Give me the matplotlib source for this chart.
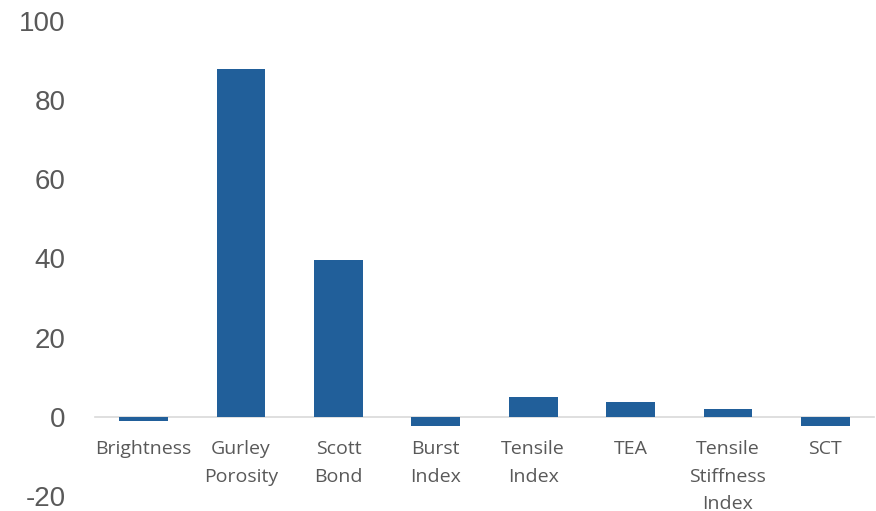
import matplotlib.pyplot as plt
import numpy as np

# categories and values
categories = ["Brightness", "Gurley\nPorosity", "Scott\nBond", "Burst\nIndex",
              "Tensile\nIndex", "TEA", "Tensile\nStiffness\nIndex", "SCT"]
values = [-1.1, 87.8, 39.7, -2.3, 5.0, 3.7, 1.9, -2.3]
y_ticks = [-20, 0, 20, 40, 60, 80, 100]

bar_color = "#215f9a"
text_color = "#595959"

fig = plt.figure(figsize=(8.76, 5.11), dpi=100)
ax = fig.add_axes([0.1084, 0.0294, 0.8893, 0.9295])

x = np.arange(len(categories))
ax.bar(x, values, width=0.5, color=bar_color, zorder=3)

ax.set_xlim(-0.5, len(categories) - 0.5)
ax.set_ylim(-20, 100)
ax.set_yticks(y_ticks)
ax.set_yticklabels([str(v) for v in y_ticks], fontsize=20,
                   family="Liberation Sans", color=text_color)
ax.tick_params(axis="y", length=0, pad=21)

# category axis sits on the zero line
ax.spines["bottom"].set_position(("data", 0))
ax.spines["bottom"].set_color("#d9d9d9")
ax.spines["bottom"].set_linewidth(1.2)
for s in ["top", "right", "left"]:
    ax.spines[s].set_visible(False)

ax.set_xticks(x)
ax.set_xticklabels(categories, fontsize=14, family="Open Sans",
                   color=text_color, linespacing=1.65, va="top")
ax.tick_params(axis="x", length=0, pad=17)

fig.savefig("out.png", dpi=100)
